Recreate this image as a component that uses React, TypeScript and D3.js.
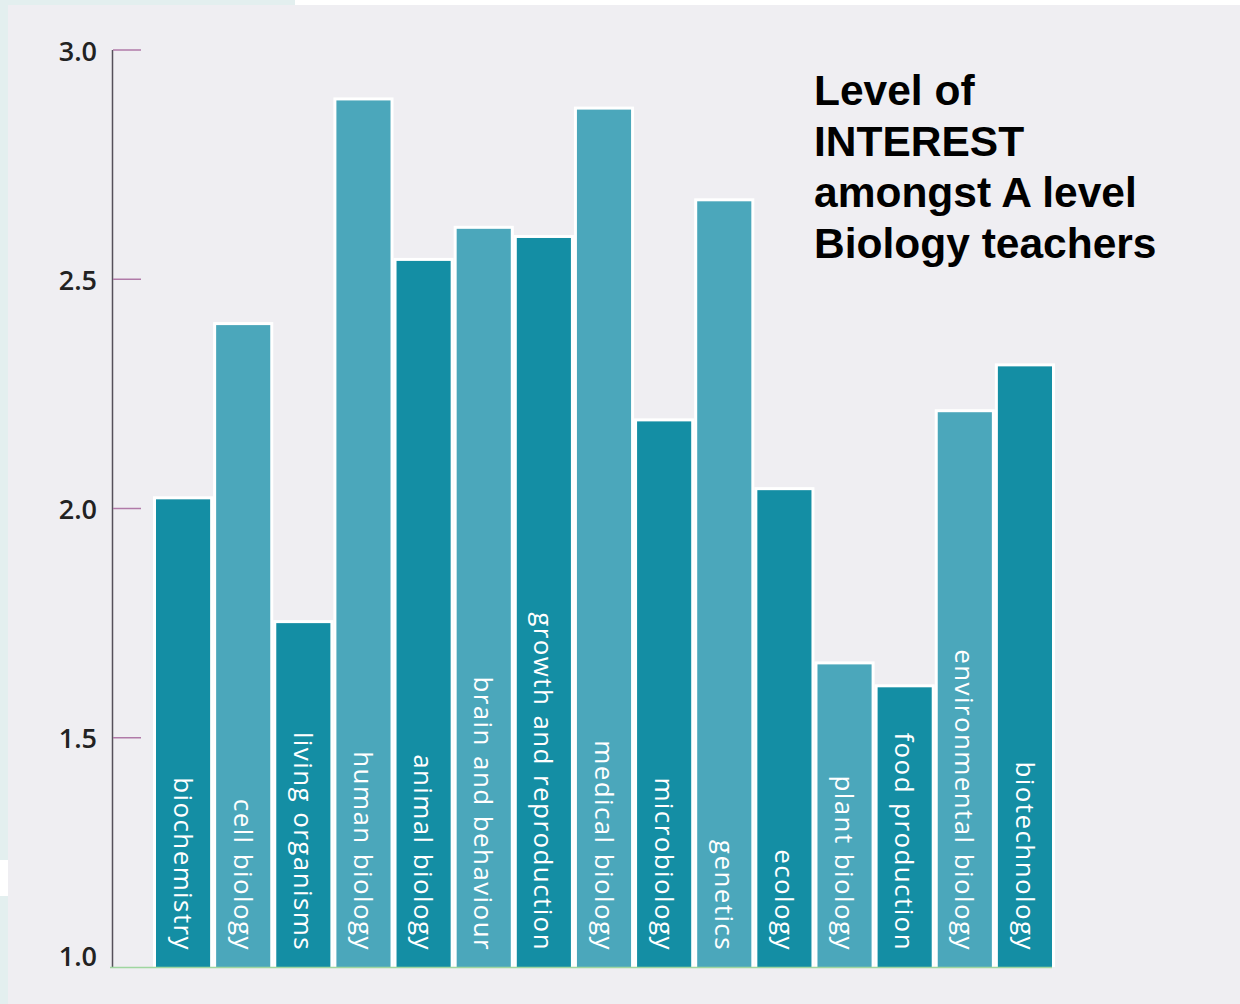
import React from "react";
import * as d3 from "d3";

const categories = [
  "biochemistry",
  "cell biology",
  "living organisms",
  "human biology",
  "animal biology",
  "brain and behaviour",
  "growth and reproduction",
  "medical biology",
  "microbiology",
  "genetics",
  "ecology",
  "plant biology",
  "food production",
  "environmental biology",
  "biotechnology",
];
const values = [2.02, 2.4, 1.75, 2.89, 2.54, 2.61, 2.59, 2.87, 2.19, 2.67, 2.04, 1.66, 1.61, 2.21, 2.31];
const yTicks = [1.0, 1.5, 2.0, 2.5, 3.0];
const titleLines = ["Level of", "INTEREST", "amongst A level", "Biology teachers"];

const W = 1240;
const H = 1004;
const DARK = "#148ea4";
const LIGHT = "#4ba7bb";

export default function App() {
  const y = d3.scaleLinear().domain([1, 3]).range([967, 50]);
  const x = d3
    .scaleBand<string>()
    .domain(categories)
    .range([156, 1052])
    .paddingInner(0.1)
    .paddingOuter(0);
  const bw = x.bandwidth();

  return (
    <svg
      width={W}
      height={H}
      style={{ position: "absolute", left: 0, top: 0, display: "block" }}
    >
      <rect x={0} y={0} width={W} height={H} fill="#efeef2" />
      {/* scan edges */}
      <rect x={0} y={0} width={W} height={5} fill="#ffffff" />
      <rect x={0} y={0} width={295} height={5} fill="#e3efef" />
      <rect x={0} y={0} width={8} height={H} fill="#e3efef" />
      <rect x={0} y={860} width={8} height={36} fill="#ffffff" />

      {/* bars */}
      {categories.map((c, i) => {
        const x0 = x(c)!;
        const y0 = y(values[i]);
        return (
          <rect
            key={"h" + c}
            x={x0 - 3}
            y={y0 - 3}
            width={bw + 6}
            height={y(1) - y0 + 3}
            fill="#ffffff"
          />
        );
      })}
      {categories.map((c, i) => {
        const x0 = x(c)!;
        const y0 = y(values[i]);
        return (
          <rect
            key={c}
            x={x0}
            y={y0}
            width={bw}
            height={y(1) - y0}
            fill={i % 2 === 0 ? DARK : LIGHT}
          />
        );
      })}
      {categories.map((c) => {
        const cx = x(c)! + bw / 2;
        return (
          <text
            key={"t" + c}
            transform={`translate(${cx},951) rotate(90)`}
            textAnchor="end"
            dy="0.36em"
            fill="#ffffff"
            fontFamily="'Open Sans', sans-serif"
            fontSize={26}
            letterSpacing={1.4}
            wordSpacing={1}
          >
            {c}
          </text>
        );
      })}

      {/* axis */}
      <line x1={112.5} x2={112.5} y1={y(3)} y2={y(1)} stroke="#55505a" strokeWidth={1.5} />
      <line x1={110} x2={1052} y1={967.5} y2={967.5} stroke="#9fd6a0" strokeWidth={1.5} />
      {yTicks.map((t) => (
        <g key={t}>
          {t > 1 && (
            <line x1={113} x2={141} y1={y(t)} y2={y(t)} stroke="#b07aa8" strokeWidth={1.5} />
          )}
          <text
            x={97}
            y={t === 1 ? y(t) - 11 : y(t) + 1}
            textAnchor="end"
            dy="0.36em"
            fill="#222222"
            fontFamily="'Open Sans', sans-serif"
            fontWeight={600}
            fontSize={27}
          >
            {t.toFixed(1)}
          </text>
        </g>
      ))}

      {/* title */}
      <text
        x={814}
        fontFamily="'Liberation Sans', Arial, sans-serif"
        fontWeight="bold"
        fontSize={42.5}
        fill="#000000"
      >
        {titleLines.map((l, i) => (
          <tspan key={l} x={814} y={105 + i * 51}>
            {l}
          </tspan>
        ))}
      </text>
    </svg>
  );
}
